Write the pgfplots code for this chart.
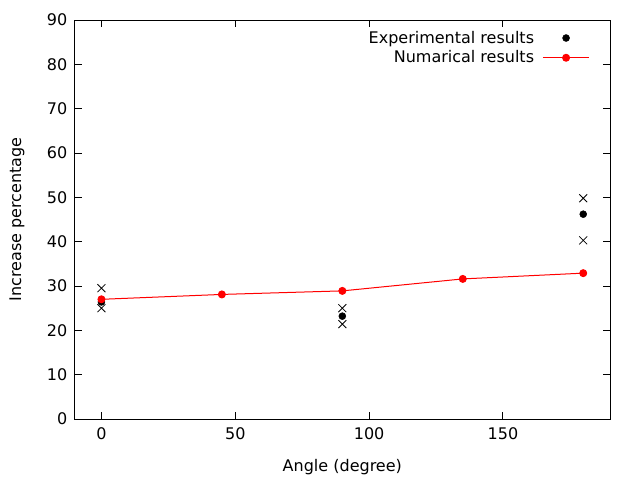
\documentclass[border=0pt]{standalone}
\usepackage{fontspec}
\setmainfont{DejaVu Sans}
\usepackage{pgfplots}
\pgfplotsset{compat=1.18}
\begin{document}
\begin{tikzpicture}[x=1pt,y=1pt]
\useasboundingbox (0,0) rectangle (480,360);
\begin{axis}[
  at={(56pt,45.75pt)}, anchor=south west,
  scale only axis, width=401.5pt, height=299.25pt,
  xmin=-10, xmax=190, ymin=0, ymax=90,
  xtick={0,50,100,150}, ytick={0,10,...,90},
  tick align=inside, major tick length=5.2pt,
  /pgf/number format/assume math mode=true,
  tick label style={font=\fontsize{12}{14}\selectfont},
  xticklabel style={yshift=-3pt},
  yticklabel style={xshift=-2pt},
  axis line style={line width=0.75pt},
  every tick/.style={black, line width=0.75pt},
  xlabel={Angle (degree)}, ylabel={Increase percentage},
  label style={font=\fontsize{12}{14}\selectfont},
  xlabel style={at={(axis description cs:0.5,-0.12)}, anchor=center},
  ylabel style={at={(axis description cs:-0.108,0.5)}, anchor=center, rotate=0},
  legend style={draw=none, fill=none, font=\fontsize{12}{14}\selectfont,
    at={(axis description cs:0.963,0.98)}, anchor=north east,
    row sep=0.2pt, inner sep=0pt},
  legend cell align=right,
  legend plot pos=right,
  legend image code/.code={\path[draw=none,fill=none] (0pt,0pt) rectangle (4.5pt,0.1pt); \draw[mark repeat=2,mark phase=2,#1] plot coordinates {(4.5pt,0pt) (22pt,0pt) (39.5pt,0pt)};},
]
\addplot[only marks, mark=*, mark size=2.6pt, black] coordinates {
  (0,26.4) (90,23.2) (180,46.2)
};
\addlegendentry{Experimental results}
\addplot[red, line width=0.75pt, mark=*, mark size=2.6pt, mark options={fill=red}] coordinates {
  (0,27.0) (45,28.1) (90,28.9) (135,31.6) (180,32.9)
};
\addlegendentry{Numarical results}
\addplot[only marks, mark=x, mark size=4.2pt, black, line width=0.6pt, forget plot] coordinates {
  (0,29.5) (0,25.0) (90,25.0) (90,21.4) (180,49.8) (180,40.3)
};
\end{axis}
\end{tikzpicture}
\end{document}
